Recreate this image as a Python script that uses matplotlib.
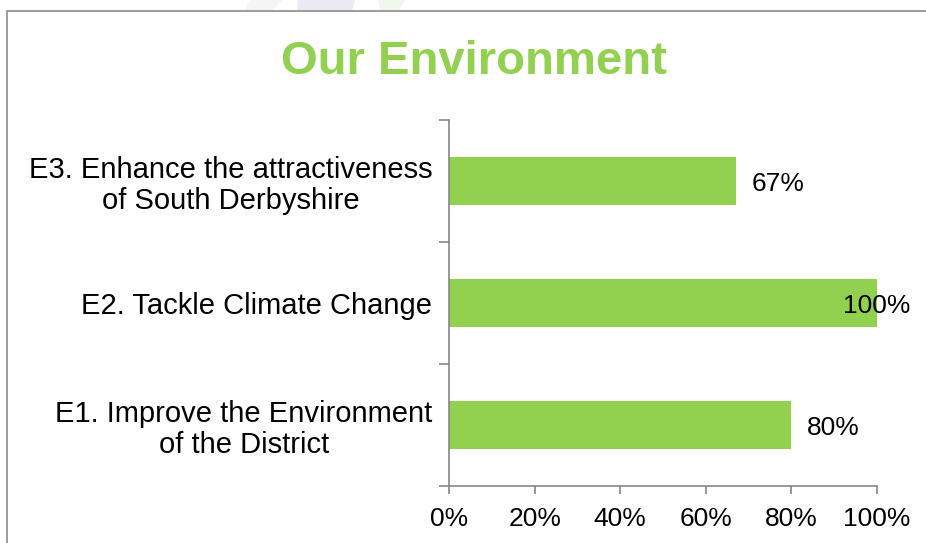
import matplotlib.pyplot as plt
from matplotlib.patches import Polygon, Rectangle
from matplotlib.ticker import FixedLocator, PercentFormatter

plt.rcParams["font.family"] = ["Liberation Sans", "DejaVu Sans"]

categories = [
    "E1. Improve the Environment\nof the District",
    "E2. Tackle Climate Change",
    "E3. Enhance the attractiveness\nof South Derbyshire",
]
values = [0.80, 1.00, 0.67]
value_labels = ["80%", "100%", "67%"]
x_ticks = [0.0, 0.2, 0.4, 0.6, 0.8, 1.0]

GREEN = "#92D050"
GREY = "#868686"

W, H = 926, 543
fig = plt.figure(figsize=(W / 100, H / 100), dpi=100)


def px(x, y):
    # pixel coords (top-left origin) -> figure fraction
    return x / W, 1 - y / H


# faint background shapes peeking over the top edge
for pts, col in [
    ([(250, 0), (282, 0), (272, 11), (244, 11)], "#f5f5f5"),
    ([(298, 0), (355, 0), (352, 11), (297, 11)], "#eeeaf4"),
    ([(378, 0), (406, 0), (398, 11), (380, 11)], "#f1f7ec"),
]:
    fig.patches.append(Polygon([px(*p) for p in pts], closed=True, transform=fig.transFigure,
                               facecolor=col, edgecolor="none", zorder=0))

# chart frame (runs off the right and bottom edges)
x0, y0 = px(7, 11)
fig.patches.append(Rectangle((x0, -0.05), 1.1, y0 + 0.05, transform=fig.transFigure,
                             facecolor="white", edgecolor="#8c8c8c", linewidth=1.2, zorder=1))

left, top = px(449, 120)
right, bottom = px(877, 486)
ax = fig.add_axes([left, bottom, right - left, top - bottom])
ax.set_zorder(2)
ax.patch.set_alpha(0)

pos = range(len(categories))
ax.barh(list(pos), values, height=0.4, color=GREEN, zorder=2)

ax.set_xlim(0, 1)
ax.set_ylim(-0.5, len(categories) - 0.5)

for sp in ["top", "right"]:
    ax.spines[sp].set_visible(False)
for sp in ["left", "bottom"]:
    ax.spines[sp].set_color(GREY)
    ax.spines[sp].set_linewidth(1.2)

ax.xaxis.set_major_locator(FixedLocator(x_ticks))
ax.xaxis.set_major_formatter(PercentFormatter(1.0, decimals=0))
ax.tick_params(axis="x", length=6, width=1.2, color=GREY, labelsize=19, pad=9)

# boundaries between categories get the tick marks, centres get the labels
ax.yaxis.set_major_locator(FixedLocator([i - 0.5 for i in range(len(categories) + 1)]))
ax.yaxis.set_ticklabels([])
ax.set_yticks(list(pos), minor=True)
ax.set_yticklabels(categories, minor=True, ha="right", multialignment="center",
                   linespacing=1.15)
ax.tick_params(axis="y", which="major", length=7, width=1.2, color=GREY)
ax.tick_params(axis="y", which="minor", length=0, labelsize=21, pad=12)

for i, (v, s) in enumerate(zip(values, value_labels)):
    lx = min(v + 0.037, 0.92)
    ax.annotate(s, (lx, i), xytext=(0, -3), textcoords="offset pixels",
                ha="left", va="center", fontsize=19, zorder=3, annotation_clip=False)

tx, ty = px(474, 62)
fig.text(tx, ty, "Our Environment", ha="center", va="center", fontsize=34,
         fontweight="bold", color=GREEN)

fig.savefig("out.png", dpi=100)
